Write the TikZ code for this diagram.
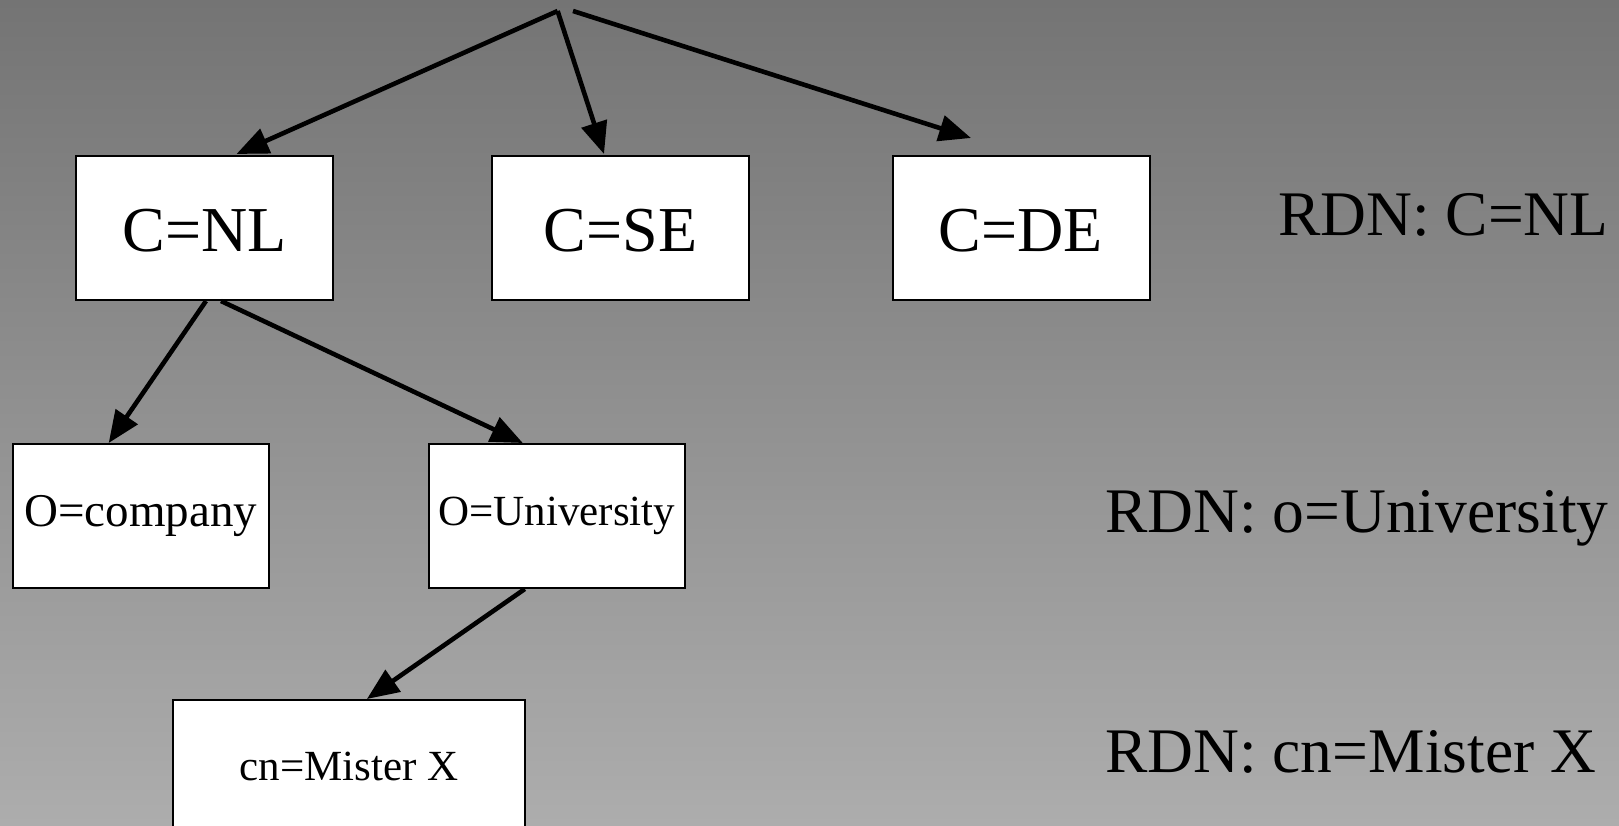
\documentclass[tikz,border=0pt]{standalone}
\usepackage{fontspec}
\setmainfont{Liberation Serif}
\usetikzlibrary{arrows.meta}

\definecolor{bgtop}{RGB}{116,116,116}
\definecolor{bgbottom}{RGB}{173,173,173}

\tikzset{
  entry/.style={draw=black, fill=white, line width=2pt, inner sep=0pt,
                minimum height=144pt, text=black},
  bigentry/.style={entry, minimum width=257pt, text height=48pt,
                   font=\fontsize{64}{70}\selectfont},
  smallentry/.style={entry, minimum width=256pt},
  link/.style={line width=4.6pt, -{Triangle[length=32pt,width=26pt]}},
  rdn/.style={anchor=base west, inner sep=0pt, font=\fontsize{63.5}{70}\selectfont}
}

\begin{document}
\begin{tikzpicture}[x=1pt, y=-1pt]
  \useasboundingbox (0,0) rectangle (1619,826);
  \clip (0,0) rectangle (1619,826);
  % gradient background
  \shade[top color=bgtop, bottom color=bgbottom] (0,0) rectangle (1619,826);

  % tree roots of the top level
  \coordinate (apex) at (557.6,11);
  \coordinate (apexb) at (573,11);

  % countries
  \node[bigentry] (nl) at (204.5,228) {C=NL};
  \node[bigentry] (se) at (620.5,228) {C=SE};
  \node[bigentry] (de) at (1021,228) {C=DE};

  % organisations
  \node[smallentry, font=\fontsize{47}{52}\selectfont] (co) at (140.7,516) {O=company};
  \node[smallentry, font=\fontsize{43}{48}\selectfont] (uni) at (556.8,516) {O=University};

  % person
  \node[entry, minimum width=352pt, text depth=12pt,
        font=\fontsize{43}{48}\selectfont] (mx) at (348.9,772) {cn=Mister X};

  % connectors
  \draw[link] (apex) -- ([xshift=32pt,yshift=1pt]nl.north);
  \draw[link] (apex) -- ([xshift=-16.5pt,yshift=1pt]se.north);
  \draw[link] (apexb) -- ([xshift=-50pt,yshift=17pt]de.north);
  \draw[link] ([xshift=1.5pt]nl.south) -- ([xshift=-32pt]co.north);
  \draw[link] ([xshift=16.5pt]nl.south) -- ([xshift=-34pt]uni.north);
  \draw[link] ([xshift=-32pt]uni.south) -- ([xshift=18pt]mx.north);

  % relative distinguished names
  \node[rdn] (r1) at (1278,236) {RDN: C=NL};
  \node[rdn] (r2) at (1105,532) {RDN: o=University};
  \node[rdn] (r3) at (1105,772) {RDN: cn=Mister X};
\end{tikzpicture}
\end{document}
